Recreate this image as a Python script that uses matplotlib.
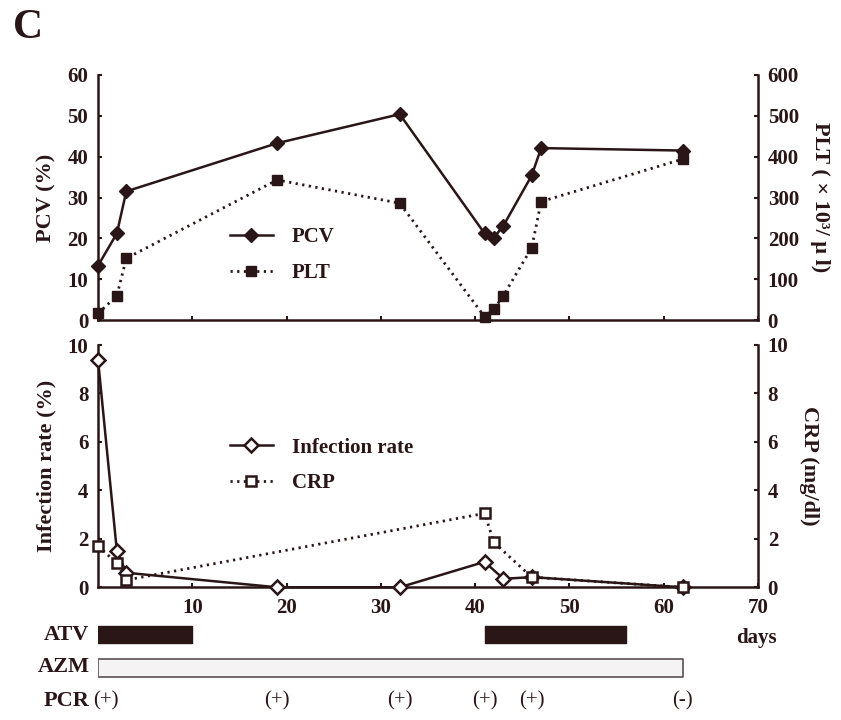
import matplotlib
matplotlib.use('Agg')
import matplotlib.pyplot as plt

# Data
days = [0, 2, 3, 19, 32, 41, 42, 43, 46, 47, 62]
pcv = [13.3, 21.2, 31.5, 43.3, 50.4, 21.2, 20.2, 23.1, 35.4, 42.1, 41.5]
plt_counts = [16, 59, 151, 343, 286, 8, 26, 60, 177, 290, 394]

infection_days = [0, 2, 3, 19, 32, 41, 43, 46, 62]
infection_rate = [9.4, 1.5, 0.6, 0.0, 0.0, 1.05, 0.35, 0.42, 0.0]

crp_days = [0, 2, 3, 41, 42, 46, 62]
crp = [1.7, 1.0, 0.3, 3.05, 1.85, 0.42, 0.0]

atv_periods = [(0, 10), (41, 56)]
azm_periods = [(0, 62)]

pcr_days = [0, 19, 32, 41, 46, 62]
pcr_results = ['(+)', '(+)', '(+)', '(+)', '(+)', '(-)']

INK = '#2a1517'
plt.rcParams['font.family'] = ['Liberation Serif', 'DejaVu Serif']
plt.rcParams['font.weight'] = 'bold'
plt.rcParams['text.color'] = INK
plt.rcParams['axes.labelcolor'] = INK
plt.rcParams['xtick.color'] = INK
plt.rcParams['ytick.color'] = INK
plt.rcParams['axes.labelweight'] = 'bold'

fig = plt.figure(figsize=(8.41, 7.2), dpi=100)
W, H = 841.0, 720.0


def px_axes(x0, y0, x1, y1):
    return fig.add_axes([x0 / W, 1 - y1 / H, (x1 - x0) / W, (y1 - y0) / H])


def style(ax, twin):
    for a in (ax, twin):
        a.spines['top'].set_visible(False)
        for s in ('left', 'right', 'bottom'):
            a.spines[s].set_linewidth(1.8)
            a.spines[s].set_color(INK)
        a.tick_params(direction='in', length=3, width=1.5, labelsize=15, pad=7)
    ax.spines['right'].set_visible(False)
    twin.spines['left'].set_visible(False)
    twin.spines['bottom'].set_visible(False)


# Top panel: PCV / PLT
ax1 = px_axes(98, 75, 758, 320)
ax1r = ax1.twinx()
style(ax1, ax1r)
l1, = ax1.plot(days, pcv, '-', color=INK, lw=1.8, marker='D', ms=7, mfc=INK,
               mec=INK, clip_on=False, zorder=3)
l2, = ax1r.plot(days, plt_counts, linestyle=(0, (0.8, 1.6)), color=INK, lw=2,
                marker='s', ms=7, mfc=INK, mec=INK, clip_on=False, zorder=3)
ax1.set_xlim(0, 70)
ax1.set_ylim(0, 60)
ax1r.set_ylim(0, 600)
ax1.set_yticks(range(0, 61, 10))
ax1r.set_yticks(range(0, 601, 100))
ax1.set_xticks(range(0, 71, 10))
ax1.tick_params(axis='x', labelbottom=False)
ax1.set_ylabel('PCV (%)', fontsize=16, labelpad=8)
ax1r.set_ylabel('PLT ( × 10³/ μ l)', fontsize=16, rotation=-90, labelpad=22)
ax1.legend([l1, l2], ['PCV', 'PLT'], loc='center left',
           bbox_to_anchor=(0.171, 0.265), frameon=False, fontsize=15,
           handlelength=2.1, handletextpad=0.9, labelspacing=0.75)

# Bottom panel: infection rate / CRP
ax2 = px_axes(98, 345, 758, 587.3)
ax2r = ax2.twinx()
style(ax2, ax2r)
l3, = ax2.plot(infection_days, infection_rate, '-', color=INK, lw=1.8,
               marker='D', ms=7, mfc='white', mec=INK, mew=1.8,
               clip_on=False, zorder=3)
l4, = ax2r.plot(crp_days, crp, linestyle=(0, (0.8, 1.6)), color=INK, lw=2,
                marker='s', ms=7, mfc='white', mec=INK, mew=1.8,
                clip_on=False, zorder=3)
ax2.set_xlim(0, 70)
ax2.set_ylim(0, 10)
ax2r.set_ylim(0, 10)
ax2.set_yticks(range(0, 11, 2))
ax2r.set_yticks(range(0, 11, 2))
ax2.set_xticks(range(10, 71, 10))
ax2.tick_params(axis='x', pad=8)
ax2.set_ylabel('Infection rate (%)', fontsize=16, labelpad=8)
ax2r.set_ylabel('CRP (mg/dl)', fontsize=16, rotation=-90, labelpad=22)
ax2.legend([l3, l4], ['Infection rate', 'CRP'], loc='center left',
           bbox_to_anchor=(0.171, 0.503), frameon=False, fontsize=15,
           handlelength=2.1, handletextpad=0.9, labelspacing=0.75)

# Treatment timeline
ax3 = px_axes(98, 618, 758, 717)
ax3.set_xlim(0, 70)
ax3.set_ylim(3, 0)
ax3.axis('off')
ax3.broken_barh([(s, e - s) for s, e in atv_periods], (0.25, 0.5),
                facecolors=INK, edgecolor=INK)
ax3.broken_barh([(s, e - s) for s, e in azm_periods], (1.25, 0.55),
                facecolors='#f5f3f3', edgecolor='#5a5052', linewidth=1.2)
for row, name in enumerate(['ATV', 'AZM', 'PCR']):
    ax3.text(-0.9, row + 0.5, name, ha='right', va='center', fontsize=16,
             fontweight='bold', clip_on=False)
for d, r in zip(pcr_days, pcr_results):
    ax3.text(max(d, 0.8), 2.5, r, ha='center', va='center', fontsize=15,
             fontweight='normal', clip_on=False)
ax3.text(69.8, 0.6, 'days', ha='center', va='center', fontsize=15,
         fontweight='bold', clip_on=False)

fig.text(13 / W, 1 - 28 / H, 'C', fontsize=30, fontweight='bold',
         va='center', ha='left')

fig.savefig('out.png', dpi=100)
